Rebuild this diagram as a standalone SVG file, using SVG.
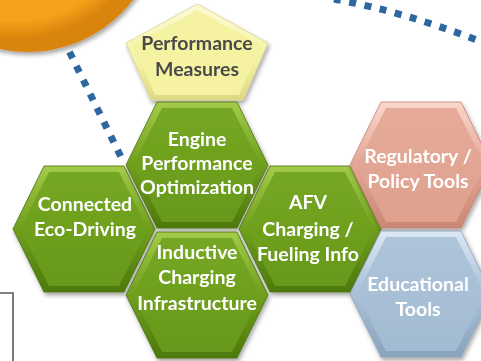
<svg xmlns="http://www.w3.org/2000/svg" width="481" height="361" viewBox="0 0 481 361">
<style>
.t{font-family:Lato,"Open Sans","Liberation Sans",sans-serif;font-weight:bold;font-size:19.5px;text-anchor:middle;fill:#ffffff}
.dk{fill:#4a4a4a}
.dot{fill:none;stroke:#2e67a0;stroke-width:7;stroke-dasharray:7 8.6}
.edge{stroke-width:0.8}
</style>
<defs>
<filter id="sh" x="-20%" y="-20%" width="140%" height="140%">
<feDropShadow dx="1.5" dy="3" stdDeviation="2" flood-color="#000" flood-opacity="0.35"/>
</filter>
<path id="hO" d="M-40,-63 L40,-63 L71,0 L40,63 L-40,63 L-71,0 Z"/>
<path id="hI" d="M-35,-57 L35,-57 L64,0 L35,57 L-35,57 L-64,0 Z"/>
<linearGradient id="gO" x1="0" y1="0" x2="0" y2="1">
<stop offset="0" stop-color="#a3cb48"/><stop offset="0.5" stop-color="#6f9f1e"/><stop offset="1" stop-color="#4d790b"/>
</linearGradient>
<linearGradient id="gI" x1="0" y1="0" x2="0" y2="1">
<stop offset="0" stop-color="#76a722"/><stop offset="1" stop-color="#67981a"/>
</linearGradient>
<linearGradient id="pO" x1="0" y1="0" x2="0" y2="1">
<stop offset="0" stop-color="#f9d8cc"/><stop offset="0.5" stop-color="#e3a594"/><stop offset="1" stop-color="#c98774"/>
</linearGradient>
<linearGradient id="pI" x1="0" y1="0" x2="0" y2="1">
<stop offset="0" stop-color="#e6ab9a"/><stop offset="1" stop-color="#dfa08e"/>
</linearGradient>
<linearGradient id="bO" x1="0" y1="0" x2="0" y2="1">
<stop offset="0" stop-color="#dbe8f3"/><stop offset="0.5" stop-color="#a9c0d7"/><stop offset="1" stop-color="#8aa3bd"/>
</linearGradient>
<linearGradient id="bI" x1="0" y1="0" x2="0" y2="1">
<stop offset="0" stop-color="#adc4da"/><stop offset="1" stop-color="#a3bbd2"/>
</linearGradient>
<linearGradient id="yO" x1="0" y1="0" x2="0" y2="1">
<stop offset="0" stop-color="#fcfbd8"/><stop offset="0.6" stop-color="#f5f2a2"/><stop offset="1" stop-color="#dcd882"/>
</linearGradient>
<radialGradient id="oG" cx="0.45" cy="0.4" r="0.55">
<stop offset="0" stop-color="#ffb42e"/><stop offset="0.88" stop-color="#f6a01a"/><stop offset="1" stop-color="#d9850c"/>
</radialGradient>
</defs>

<circle cx="28" cy="-80" r="132" fill="url(#oG)" filter="url(#sh)"/>

<g id="connectors">
<path class="dot" d="M69.5,52 L121,157"/>
<path class="dot" d="M334,-1 Q405,12 482,42"/>
</g>

<path d="M0,293 H13 V361" fill="none" stroke="#5a5a5a" stroke-width="1.6"/>

<g id="performance-measures" filter="url(#sh)">
<path d="M197,4 L268,43 L243,100 L151,100 L126,43 Z" fill="url(#yO)" stroke="#d8d490" stroke-width="0.8"/>
<path d="M197,10 L261,45 L239,95 L155,95 L133,45 Z" fill="#f5f2a2"/>
<text class="t dk" x="197" y="50">Performance</text>
<text class="t dk" x="197" y="76">Measures</text>
</g>

<g id="connected-eco-driving" filter="url(#sh)" transform="translate(84,229)">
<use href="#hO" fill="url(#gO)" stroke="#4a700e" class="edge"/>
<use href="#hI" fill="url(#gI)"/>
<text class="t" x="1" y="-18">Connected</text>
<text class="t" x="1" y="7">Eco-Driving</text>
</g>

<g id="engine-performance-optimization" filter="url(#sh)" transform="translate(197,165)">
<use href="#hO" fill="url(#gO)" stroke="#4a700e" class="edge"/>
<use href="#hI" fill="url(#gI)"/>
<text class="t" x="0" y="-19">Engine</text>
<text class="t" x="0" y="5">Performance</text>
<text class="t" x="0" y="29">Optimization</text>
</g>

<g id="inductive-charging-infrastructure" filter="url(#sh)" transform="translate(197,295)">
<use href="#hO" fill="url(#gO)" stroke="#4a700e" class="edge"/>
<use href="#hI" fill="url(#gI)"/>
<text class="t" x="0" y="-36">Inductive</text>
<text class="t" x="0" y="-11">Charging</text>
<text class="t" x="0" y="15">Infrastructure</text>
</g>

<g id="afv-charging-fueling-info" filter="url(#sh)" transform="translate(310,229)">
<use href="#hO" fill="url(#gO)" stroke="#4a700e" class="edge"/>
<use href="#hI" fill="url(#gI)"/>
<text class="t" x="-2" y="-20">AFV</text>
<text class="t" x="-2" y="7">Charging /</text>
<text class="t" x="-2" y="32">Fueling Info</text>
</g>

<g id="regulatory-policy-tools" filter="url(#sh)" transform="translate(421,165)">
<use href="#hO" fill="url(#pO)" stroke="#c08070" class="edge"/>
<use href="#hI" fill="url(#pI)"/>
<text class="t" x="-3" y="-2">Regulatory /</text>
<text class="t" x="-3" y="23">Policy Tools</text>
</g>

<g id="educational-tools" filter="url(#sh)" transform="translate(421,294)">
<use href="#hO" fill="url(#bO)" stroke="#8aa0b8" class="edge"/>
<use href="#hI" fill="url(#bI)"/>
<text class="t" x="-3" y="-3">Educational</text>
<text class="t" x="-3" y="22">Tools</text>
</g>
</svg>
